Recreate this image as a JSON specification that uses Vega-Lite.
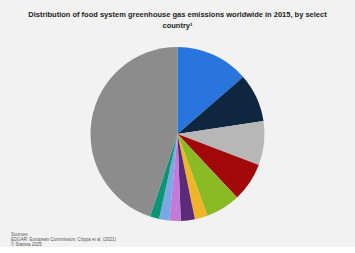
{
  "$schema": "https://vega.github.io/schema/vega-lite/v6.json",
  "background": "#f2f2f2",
  "padding": {"left": 11, "right": 11, "top": 10, "bottom": 0},
  "spacing": 0,
  "config": {"view": {"stroke": null}, "font": "Liberation Sans"},
  "vconcat": [
    {
      "title": {
        "text": ["Distribution of food system greenhouse gas emissions worldwide in 2015, by select", "country¹"],
        "fontSize": 7.5,
        "fontWeight": "bold",
        "color": "#222222",
        "lineHeight": 11,
        "anchor": "middle",
        "offset": 7
      },
      "width": 333,
      "height": 196,
      "data": {
        "values": [
          {"country": "China", "share": 13.6, "order": 1},
          {"country": "Brazil", "share": 9.0, "order": 2},
          {"country": "United States", "share": 8.2, "order": 3},
          {"country": "India", "share": 7.2, "order": 4},
          {"country": "Indonesia", "share": 6.4, "order": 5},
          {"country": "Russia", "share": 2.4, "order": 6},
          {"country": "Argentina", "share": 2.6, "order": 7},
          {"country": "Pakistan", "share": 2.1, "order": 8},
          {"country": "Australia", "share": 1.9, "order": 9},
          {"country": "Mexico", "share": 1.7, "order": 10},
          {"country": "Rest of the world", "share": 44.9, "order": 11}
        ]
      },
      "mark": {"type": "arc", "radius": 87},
      "encoding": {
        "theta": {"field": "share", "type": "quantitative", "stack": true},
        "order": {"field": "order", "type": "quantitative"},
        "color": {
          "field": "country",
          "type": "nominal",
          "legend": null,
          "scale": {
            "domain": ["China", "Brazil", "United States", "India", "Indonesia", "Russia", "Argentina", "Pakistan", "Australia", "Mexico", "Rest of the world"],
            "range": ["#2876dd", "#0f2640", "#b7b7b7", "#a30808", "#8aba24", "#efb526", "#5b2a7a", "#c47ad9", "#7aa8e6", "#0a9673", "#8c8c8c"]
          }
        }
      }
    },
    {
      "width": 333,
      "height": 14,
      "data": {
        "values": [
          {"line": 1, "text": "Sources"},
          {"line": 2, "text": "EDGAR; European Commission; Crippa et al. (2021)"},
          {"line": 3, "text": "© Statista 2025"}
        ]
      },
      "mark": {"type": "text", "align": "left", "baseline": "middle", "fontSize": 4.5, "color": "#555555"},
      "encoding": {
        "x": {"value": 0},
        "y": {"field": "line", "type": "ordinal", "axis": null},
        "text": {"field": "text", "type": "nominal"},
        "fontWeight": {"condition": {"test": "datum.line == 1", "value": "bold"}, "value": "normal"}
      }
    }
  ]
}
